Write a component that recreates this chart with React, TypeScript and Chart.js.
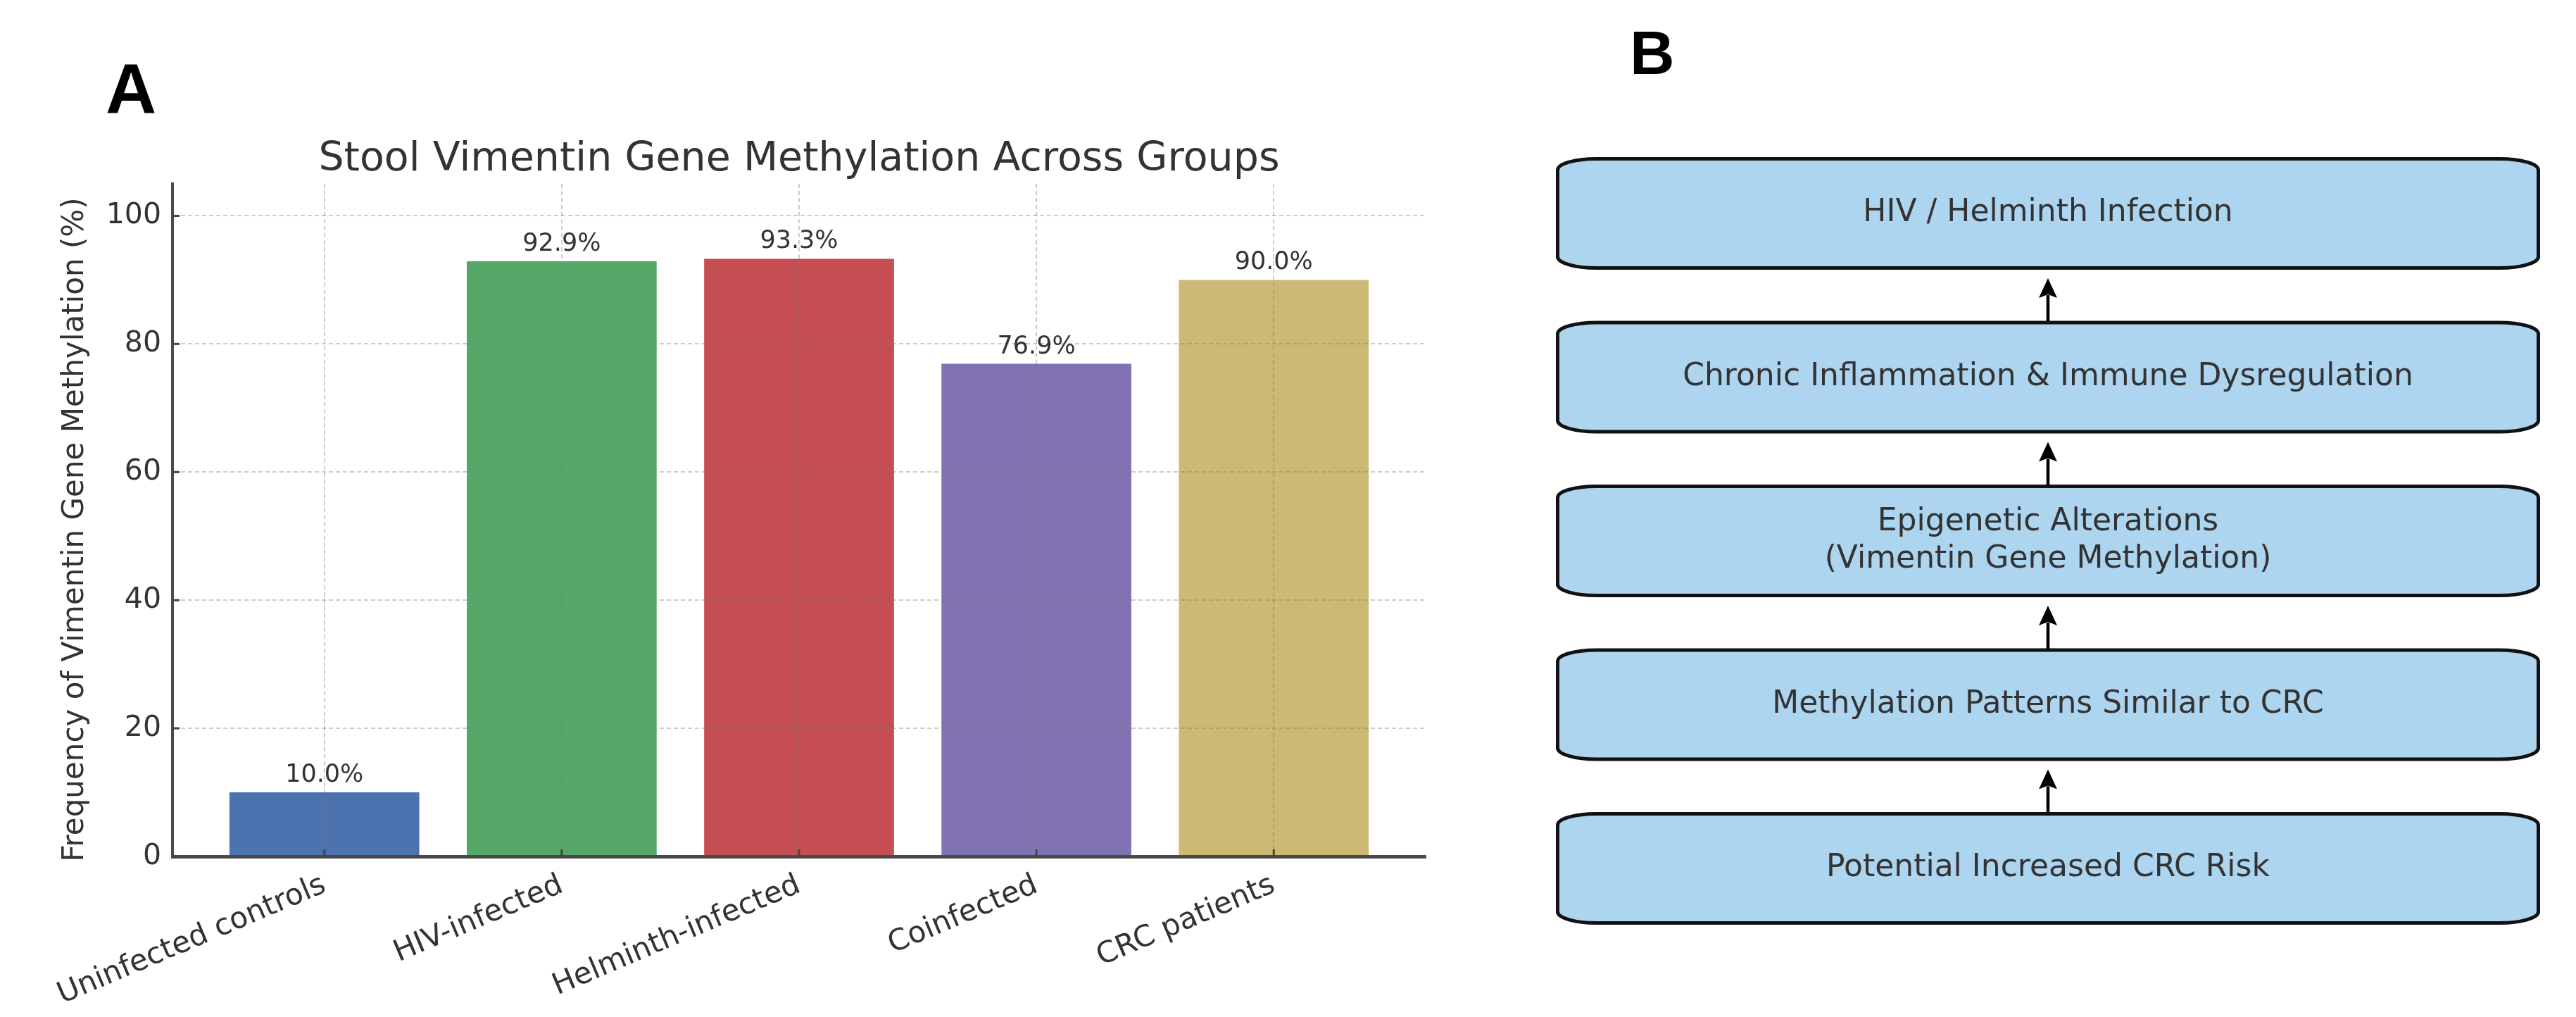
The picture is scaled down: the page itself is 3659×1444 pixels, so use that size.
import React, { useEffect, useRef } from "react";
import { Chart, registerables } from "chart.js";

Chart.register(...registerables);

// ---------- data ----------
const CATEGORIES = ["Uninfected controls", "HIV-infected", "Helminth-infected", "Coinfected", "CRC patients"];
const CATEGORY_POSITIONS = [0, 1, 2, 3, 4];
const METHYLATION = [10.0, 92.9, 93.3, 76.9, 90.0];
const BAR_COLORS = ["#4C72B0", "#55A868", "#C44E52", "#8172B2", "#CCB974"];
const Y_TICKS = [0, 20, 40, 60, 80, 100];
const TITLE = "Stool Vimentin Gene Methylation Across Groups";
const Y_LABEL = "Frequency of Vimentin Gene Methylation (%)";
const STEPS = [
  ["HIV / Helminth Infection"],
  ["Chronic Inflammation & Immune Dysregulation"],
  ["Epigenetic Alterations", "(Vimentin Gene Methylation)"],
  ["Methylation Patterns Similar to CRC"],
  ["Potential Increased CRC Risk"],
];
const STEP_SPAN = [0, 1];

// ---------- styles ----------
const FONT = "'DejaVu Sans', sans-serif";
const LETTER_FONT = "'Liberation Sans', Arial, sans-serif";
const TEXT = "#333333";
const GRID = "rgba(120,120,120,0.38)";
const SPINE = "#4a4a4a";

const panelAPlugin = {
  id: "panelA",
  afterDraw(chart: any) {
    const { ctx, chartArea } = chart;
    const xs = chart.scales.x;
    const ys = chart.scales.y;
    ctx.save();
    // inward ticks
    ctx.strokeStyle = "#444";
    ctx.lineWidth = 3;
    CATEGORY_POSITIONS.forEach((v) => {
      const x = xs.getPixelForValue(v);
      ctx.beginPath();
      ctx.moveTo(x, chartArea.bottom);
      ctx.lineTo(x, chartArea.bottom - 10);
      ctx.stroke();
    });
    Y_TICKS.forEach((v) => {
      const y = ys.getPixelForValue(v);
      ctx.beginPath();
      ctx.moveTo(chartArea.left, y);
      ctx.lineTo(chartArea.left + 10, y);
      ctx.stroke();
    });
    // value labels
    const meta = chart.getDatasetMeta(0);
    ctx.fillStyle = TEXT;
    ctx.font = `35px ${FONT}`;
    ctx.textAlign = "center";
    ctx.textBaseline = "alphabetic";
    meta.data.forEach((el: any, i: number) => {
      ctx.fillText(`${METHYLATION[i].toFixed(1)}%`, el.x, el.y - 15);
    });
    // title
    ctx.font = `57px ${FONT}`;
    ctx.fillText(TITLE, (chartArea.left + chartArea.right) / 2, 242);
    // y-axis label
    ctx.save();
    ctx.translate(107, 752);
    ctx.rotate(-Math.PI / 2);
    ctx.font = `42px ${FONT}`;
    ctx.textBaseline = "middle";
    ctx.fillText(Y_LABEL, 0, 0);
    ctx.restore();
    // panel letter
    ctx.fillStyle = "#000";
    ctx.font = `bold 100px ${LETTER_FONT}`;
    ctx.textAlign = "left";
    ctx.textBaseline = "alphabetic";
    ctx.fillText("A", 150, 161);
    ctx.restore();
  },
};

function ellipseRect(ctx: CanvasRenderingContext2D, l: number, t: number, r: number, b: number, rx: number, ry: number) {
  ctx.beginPath();
  ctx.moveTo(l + rx, t);
  ctx.lineTo(r - rx, t);
  ctx.ellipse(r - rx, t + ry, rx, ry, 0, -Math.PI / 2, 0);
  ctx.lineTo(r, b - ry);
  ctx.ellipse(r - rx, b - ry, rx, ry, 0, 0, Math.PI / 2);
  ctx.lineTo(l + rx, b);
  ctx.ellipse(l + rx, b - ry, rx, ry, 0, Math.PI / 2, Math.PI);
  ctx.lineTo(l, t + ry);
  ctx.ellipse(l + rx, t + ry, rx, ry, 0, Math.PI, Math.PI * 1.5);
  ctx.closePath();
}

const panelBPlugin = {
  id: "panelB",
  afterDatasetsDraw(chart: any) {
    const { ctx } = chart;
    const meta = chart.getDatasetMeta(0);
    const boxes = meta.data.map((el: any) => {
      const p = el.getProps(["x", "y", "base", "height"], true);
      return {
        l: Math.min(p.x, p.base),
        r: Math.max(p.x, p.base),
        t: p.y - p.height / 2,
        b: p.y + p.height / 2,
        cy: p.y,
      };
    });
    ctx.save();
    const bw = 5;
    boxes.forEach((bx: any, i: number) => {
      ellipseRect(ctx, bx.l + bw / 2, bx.t + bw / 2, bx.r - bw / 2, bx.b - bw / 2, 55, 16);
      ctx.fillStyle = "#AED5F0";
      ctx.fill();
      ctx.lineWidth = bw;
      ctx.strokeStyle = "#111";
      ctx.stroke();
      const lines = STEPS[i];
      ctx.fillStyle = TEXT;
      ctx.font = `44px ${FONT}`;
      ctx.textAlign = "center";
      ctx.textBaseline = "middle";
      const lh = 53;
      const cx = (bx.l + bx.r) / 2;
      lines.forEach((ln, j) => {
        ctx.fillText(ln, cx, bx.cy + (j - (lines.length - 1) / 2) * lh);
      });
    });
    // arrows from lower box up to upper box
    ctx.fillStyle = "#000";
    ctx.strokeStyle = "#000";
    for (let i = 0; i < boxes.length - 1; i++) {
      const up = boxes[i];
      const low = boxes[i + 1];
      const x = (up.l + up.r) / 2;
      const tip = up.b + 12;
      const headLen = 28;
      const headHalf = 13;
      ctx.lineWidth = 4.5;
      ctx.beginPath();
      ctx.moveTo(x, low.t + 2);
      ctx.lineTo(x, tip + headLen - 4);
      ctx.stroke();
      ctx.beginPath();
      ctx.moveTo(x, tip);
      ctx.lineTo(x - headHalf, tip + headLen);
      ctx.lineTo(x, tip + headLen - 5);
      ctx.lineTo(x + headHalf, tip + headLen);
      ctx.closePath();
      ctx.fill();
    }
    // panel letter
    ctx.fillStyle = "#000";
    ctx.font = `bold 88px ${LETTER_FONT}`;
    ctx.textAlign = "left";
    ctx.textBaseline = "alphabetic";
    ctx.fillText("B", 2315 - 2150, 105);
    ctx.restore();
  },
};

export default function App() {
  const refA = useRef<HTMLCanvasElement>(null);
  const refB = useRef<HTMLCanvasElement>(null);

  useEffect(() => {
    const chartA = new Chart(refA.current as HTMLCanvasElement, {
      type: "bar",
      data: {
        datasets: [
          {
            data: METHYLATION.map((v, i) => ({ x: CATEGORY_POSITIONS[i], y: v })),
            backgroundColor: BAR_COLORS,
            borderWidth: 0,
            categoryPercentage: 1,
            barPercentage: 0.8,
          } as any,
        ],
      },
      options: {
        responsive: false,
        animation: false,
        devicePixelRatio: 1,
        layout: { padding: { left: 0, right: 125, top: 261, bottom: 0 } },
        plugins: { legend: { display: false }, tooltip: { enabled: false }, title: { display: false } },
        scales: {
          x: {
            type: "linear",
            min: -0.64,
            max: 4.64,
            offset: false,
            afterBuildTicks: (s: any) => {
              s.ticks = CATEGORY_POSITIONS.map((v) => ({ value: v }));
            },
            afterFit: (s: any) => {
              s.height = 228;
            },
            ticks: {
              autoSkip: false,
              minRotation: 23,
              maxRotation: 23,
              padding: 16,
              color: TEXT,
              font: { family: FONT, size: 42 },
              callback: (v: any) => CATEGORIES[Math.round(Number(v))] ?? "",
            },
            grid: { color: GRID, lineWidth: 2, drawTicks: false, offset: false, z: 1 },
            border: { display: true, color: SPINE, width: 5, dash: [6, 4], z: 2 },
          },
          y: {
            type: "linear",
            min: 0,
            max: 105,
            afterBuildTicks: (s: any) => {
              s.ticks = Y_TICKS.map((v) => ({ value: v }));
            },
            afterFit: (s: any) => {
              s.width = 245;
            },
            ticks: { padding: 16, color: TEXT, font: { family: FONT, size: 41 } },
            grid: { color: GRID, lineWidth: 2, drawTicks: false, z: 1 },
            border: { display: true, color: SPINE, width: 4, dash: [6, 4], z: 2 },
            title: { display: false },
          },
        },
      } as any,
      plugins: [panelAPlugin],
    });

    const chartB = new Chart(refB.current as HTMLCanvasElement, {
      type: "bar",
      data: {
        labels: STEPS.map((s) => s.join(" ")),
        datasets: [
          {
            data: STEPS.map(() => STEP_SPAN),
            backgroundColor: "rgba(0,0,0,0)",
            borderWidth: 0,
            categoryPercentage: 1,
            barPercentage: 0.688,
          } as any,
        ],
      },
      options: {
        indexAxis: "y",
        responsive: false,
        animation: false,
        devicePixelRatio: 1,
        layout: { padding: { left: 60, right: 51, top: 186.75, bottom: 94.75 } },
        plugins: { legend: { display: false }, tooltip: { enabled: false } },
        scales: {
          x: { type: "linear", min: 0, max: 1, display: false },
          y: { type: "category", display: false },
        },
      } as any,
      plugins: [panelBPlugin],
    });

    return () => {
      chartA.destroy();
      chartB.destroy();
    };
  }, []);

  return (
    <div style={{ position: "absolute", left: 0, top: 0, width: 3659, height: 1444, background: "#fff" }}>
      <canvas
        ref={refA}
        width={2150}
        height={1444}
        style={{ position: "absolute", left: 0, top: 0, width: 2150, height: 1444 }}
      />
      <canvas
        ref={refB}
        width={1509}
        height={1444}
        style={{ position: "absolute", left: 2150, top: 0, width: 1509, height: 1444 }}
      />
    </div>
  );
}
